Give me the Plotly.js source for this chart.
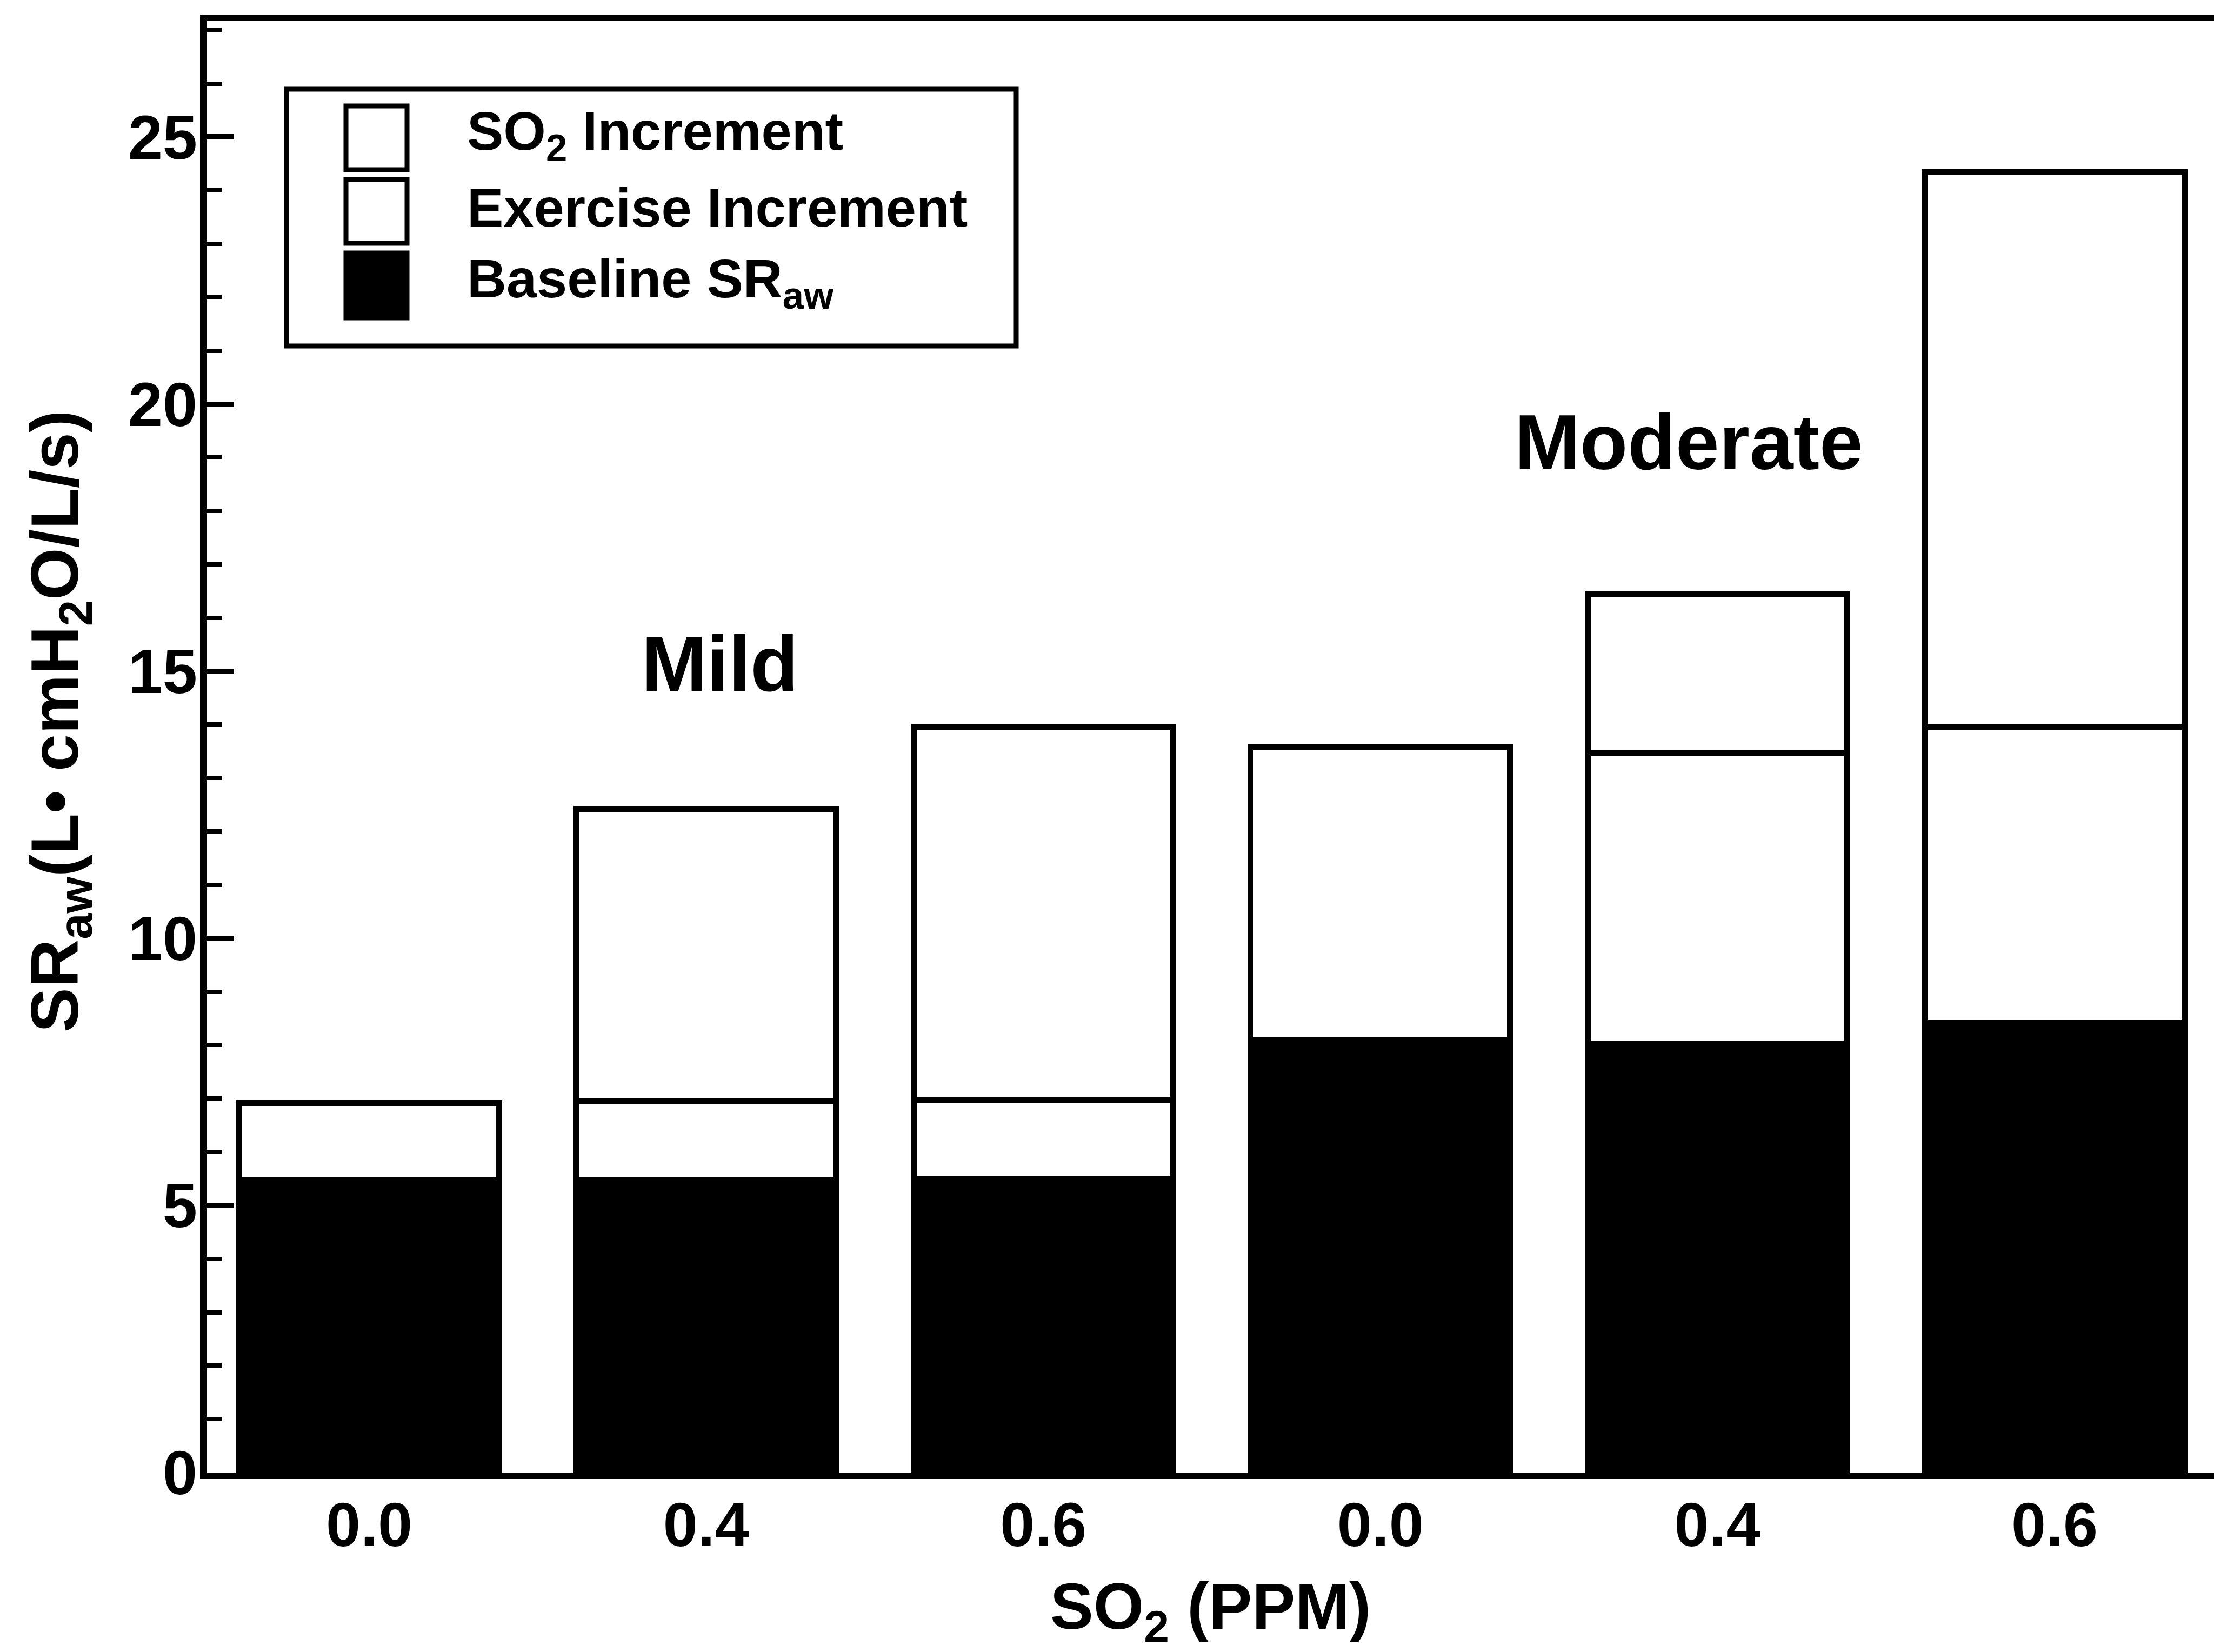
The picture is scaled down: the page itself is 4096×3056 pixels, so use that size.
<!DOCTYPE html>
<html>
<head>
<meta charset="utf-8">
<script src="https://cdn.plot.ly/plotly-3.0.1.min.js"></script>
<style>
html, body { margin: 0; padding: 0; background: #ffffff; }
#chart { width: 4096px; height: 3056px; }
</style>
</head>
<body>
<div id="chart"></div>
<script>
// ---- data ----
const categories = ["Mild 0.0", "Mild 0.4", "Mild 0.6", "Moderate 0.0", "Moderate 0.4", "Moderate 0.6"];
const doseLabels = ["0.0", "0.4", "0.6", "0.0", "0.4", "0.6"];
const baselineSRaw = [5.47, 5.47, 5.50, 8.10, 8.02, 8.42];
const exerciseIncrement = [1.45, 1.48, 1.48, 5.48, 5.44, 5.54];
const so2Increment = [0, 5.47, 6.97, 0, 2.99, 10.38];
const seriesNames = ["Baseline SR<sub>aw</sub>", "Exercise Increment", "SO<sub>2</sub> Increment"];
const groupLabels = ["Mild", "Moderate"];
const yTickValues = [0, 5, 10, 15, 20, 25];
const xTitle = "SO<sub>2</sub> (PPM)";
const yTitle = "SR<sub>aw</sub>(L\u2022 cmH<sub>2</sub>O/L/s)";

// ---- layout geometry (pixels in the 4096x3056 window) ----
const W = 4096, H = 3056;
const M = { l: 383, r: 0, t: 39, b: 332 };
const PW = W - M.l - M.r, PH = H - M.t - M.b;
const fx = px => (px - M.l) / PW;
const fy = py => (H - M.b - py) / PH;

const FAM = "Liberation Sans, Arial, Helvetica, sans-serif";
const font = (size) => ({ family: FAM, size: size, color: "#000000", weight: "bold" });
const LINE = 11;

const barLine = { color: "#000000", width: LINE };
const traces = [
  { type: "bar", name: seriesNames[0], x: categories, y: baselineSRaw,
    marker: { color: "#000000", line: barLine }, width: 0.77, hoverinfo: "y" },
  { type: "bar", name: seriesNames[1], x: categories, y: exerciseIncrement,
    marker: { color: "#ffffff", line: barLine }, width: 0.77, hoverinfo: "y" },
  { type: "bar", name: seriesNames[2], x: categories, y: so2Increment,
    marker: { color: "#ffffff", line: barLine }, width: 0.77, hoverinfo: "y" }
];

// custom legend (drawn in paper coordinates)
const legendRows = [
  { name: seriesNames[2], fill: "#ffffff", top: 196, bottom: 314, textY: 250 },
  { name: seriesNames[1], fill: "#ffffff", top: 332, bottom: 450, textY: 384 },
  { name: seriesNames[0], fill: "#000000", top: 468, bottom: 588, textY: 522 }
];

const shapes = [
  { type: "rect", xref: "paper", yref: "paper", layer: "above",
    x0: fx(530), x1: fx(1880), y0: fy(640), y1: fy(165),
    line: { color: "#000000", width: 9 }, fillcolor: "rgba(0,0,0,0)" }
];
const annotations = [];
legendRows.forEach(r => {
  shapes.push({ type: "rect", xref: "paper", yref: "paper", layer: "above",
    x0: fx(640), x1: fx(753), y0: fy(r.bottom), y1: fy(r.top),
    line: { color: "#000000", width: 9 }, fillcolor: r.fill });
  annotations.push({ xref: "paper", yref: "paper", x: fx(862), y: fy(r.textY),
    xanchor: "left", yanchor: "middle", showarrow: false, text: r.name, font: font(101) });
});
annotations.push({ xref: "paper", yref: "paper", x: fx(1332), y: fy(1228),
  xanchor: "center", yanchor: "middle", showarrow: false, text: groupLabels[0], font: font(145) });
annotations.push({ xref: "paper", yref: "paper", x: fx(3124), y: fy(818),
  xanchor: "center", yanchor: "middle", showarrow: false, text: groupLabels[1], font: font(145) });
// y-axis title (placed as in the reference, slightly above the plot centre)
annotations.push({ xref: "paper", yref: "paper", x: fx(110), y: fy(1335),
  xanchor: "center", yanchor: "middle", showarrow: false, textangle: -90,
  text: yTitle, font: font(124) });

const layout = {
  width: W, height: H,
  margin: M,
  paper_bgcolor: "#ffffff", plot_bgcolor: "#ffffff",
  font: font(115),
  barmode: "stack",
  showlegend: false,
  xaxis: {
    type: "category",
    range: [-0.481, 5.473],
    tickmode: "array", tickvals: categories, ticktext: doseLabels,
    ticks: "", showgrid: false, zeroline: false,
    showline: true, linecolor: "#000000", linewidth: 12, mirror: true,
    tickfont: font(115), ticklabelstandoff: -14,
    title: { text: xTitle, font: font(120), standoff: 110 }
  },
  yaxis: {
    range: [0, 27.17],
    tickmode: "array", tickvals: yTickValues,
    ticks: "inside", ticklen: 50, tickwidth: 10, tickcolor: "#000000",
    minor: { dtick: 1, tick0: 0, ticks: "inside", ticklen: 28, tickwidth: 8, tickcolor: "#000000", showgrid: false },
    showgrid: false, zeroline: false,
    showline: true, linecolor: "#000000", linewidth: 13, mirror: true,
    tickfont: font(115), ticklabelstandoff: -18
  },
  shapes: shapes,
  annotations: annotations
};

Plotly.newPlot("chart", traces, layout, { displayModeBar: false, staticPlot: true });
</script>
</body>
</html>
